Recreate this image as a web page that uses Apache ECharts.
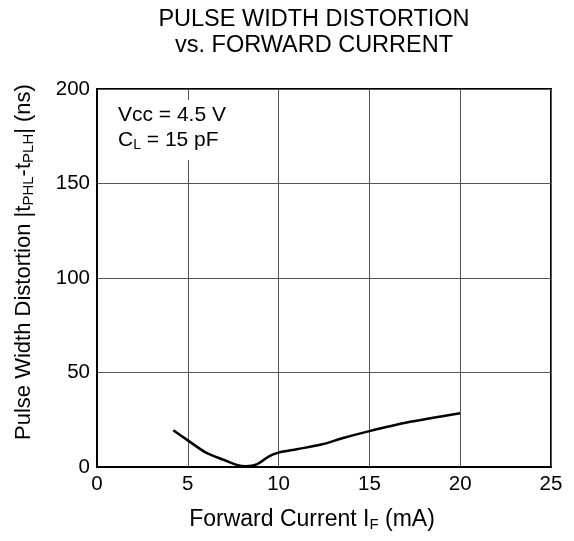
<!DOCTYPE html>
<html>
<head>
<meta charset="utf-8">
<script src="https://cdn.jsdelivr.net/npm/echarts@6/dist/echarts.min.js"></script>
<style>
  html, body { margin: 0; padding: 0; background: #fff; }
  #chart { width: 574px; height: 541px; }
</style>
</head>
<body>
<div id="chart"></div>
<script>
const forwardCurrent = [4.2, 5, 6, 7, 7.7, 8.2, 8.8, 9.5, 10, 11, 12.4, 13.5, 15, 17, 20];
const distortion = [19.4, 14.1, 7.6, 3.7, 1.1, 0.4, 1.4, 5.8, 7.6, 9.4, 12, 15.2, 19, 23.4, 28.4];
const xTicks = [0, 5, 10, 15, 20, 25];
const yTicks = [0, 50, 100, 150, 200];

const font = "Liberation Sans, Arial, sans-serif";

const chart = echarts.init(document.getElementById("chart"));
chart.setOption({
  animation: false,
  backgroundColor: "#fff",
  title: {
    text: "PULSE WIDTH DISTORTION\nvs. FORWARD CURRENT",
    left: 314,
    top: 7,
    padding: 0,
    textAlign: "center",
    textStyle: { fontFamily: font, fontSize: 23.5, fontWeight: "normal", color: "#000", lineHeight: 26 }
  },
  grid: {
    left: 97, right: 23, top: 89, bottom: 74,
    show: true, borderColor: "#000", borderWidth: 2
  },
  xAxis: {
    type: "value",
    min: xTicks[0], max: xTicks[xTicks.length - 1], interval: 5,
    axisLine: { lineStyle: { color: "#000", width: 2 } },
    axisTick: { show: false },
    splitLine: { lineStyle: { color: "#555", width: 1 } },
    axisLabel: { color: "#000", fontFamily: font, fontSize: 20.5, margin: 7 }
  },
  yAxis: {
    type: "value",
    min: yTicks[0], max: yTicks[yTicks.length - 1], interval: 50,
    axisLine: { show: true, lineStyle: { color: "#000", width: 2 } },
    axisTick: { show: false },
    splitLine: { lineStyle: { color: "#555", width: 1 } },
    axisLabel: { color: "#000", fontFamily: font, fontSize: 20.5, margin: 7 }
  },
  series: [{
    type: "line",
    data: forwardCurrent.map((x, i) => [x, distortion[i]]),
    smooth: 0.3,
    showSymbol: false,
    lineStyle: { color: "#000", width: 2.5 },
    z: 5
  }],
  graphic: [
    {
      type: "text",
      left: 108, top: 100,
      z: 10,
      style: {
        text: "Vcc = 4.5 V\nC{s|L} = 15 pF",
        fontFamily: font, fontSize: 21, fill: "#000", lineHeight: 25,
        backgroundColor: "#fff",
        padding: [3, 10, 7, 10],
        rich: { s: { fontFamily: font, fontSize: 14, padding: [9, 0, 0, 0] } }
      }
    },
    {
      type: "text",
      x: 312, y: 520,
      style: {
        text: "Forward Current I{s|F} (mA)",
        fontFamily: font, fontSize: 23, fill: "#000",
        align: "center", verticalAlign: "middle",
        rich: { s: { fontFamily: font, fontSize: 15, padding: [10, 0, 0, 0] } }
      }
    },
    {
      type: "text",
      x: 24, y: 262,
      rotation: Math.PI / 2,
      style: {
        text: "Pulse Width Distortion |t{s|PHL}-t{s|PLH}| (ns)",
        fontFamily: font, fontSize: 22, fill: "#000",
        align: "center", verticalAlign: "middle",
        rich: { s: { fontFamily: font, fontSize: 15, padding: [10, 0, 0, 0] } }
      }
    }
  ]
});
window.addEventListener("resize", () => chart.resize());
</script>
</body>
</html>
